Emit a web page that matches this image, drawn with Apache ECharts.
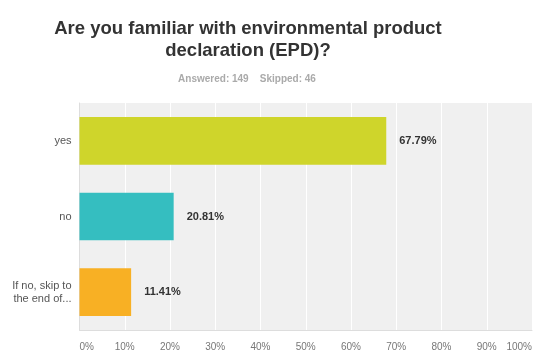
<!DOCTYPE html>
<html>
<head>
<meta charset="utf-8">
<script src="https://cdn.jsdelivr.net/npm/echarts@6/dist/echarts.min.js"></script>
<style>
  html, body { margin: 0; padding: 0; background: #fff; }
  #chart { width: 535px; height: 352px; }
</style>
</head>
<body>
<div id="chart"></div>
<script>
// Survey answers, top to bottom
var categories = ['yes', 'no', 'If no, skip to\nthe end of...'];
var percentages = [67.79, 20.81, 11.41];
var barColors = ['#cfd52b', '#35bec0', '#f8b024'];
var tickValues = [0, 10, 20, 30, 40, 50, 60, 70, 80, 90, 100];

var chart = echarts.init(document.getElementById('chart'), null, { renderer: 'canvas' });

var option = {
  animation: false,
  backgroundColor: '#ffffff',
  title: [
    {
      text: 'Are you familiar with environmental product\ndeclaration (EPD)?',
      left: 243,
      textAlign: 'center',
      top: 13,
      textStyle: {
        fontFamily: 'Liberation Sans, Arial, sans-serif',
        fontSize: 18.5,
        fontWeight: 'bold',
        color: '#333333',
        lineHeight: 22
      }
    },
    {
      text: 'Answered: 149    Skipped: 46',
      left: 242,
      textAlign: 'center',
      top: 69,
      textStyle: {
        fontFamily: 'Liberation Sans, Arial, sans-serif',
        fontSize: 10,
        fontWeight: 'bold',
        color: '#aaaaaa'
      }
    }
  ],
  grid: {
    left: 79.5,
    right: 2,
    top: 103,
    bottom: 22,
    show: true,
    backgroundColor: '#f0f0f0',
    borderWidth: 0
  },
  xAxis: {
    type: 'value',
    min: 0,
    max: 100,
    interval: 10,
    axisLine: { show: true, lineStyle: { color: '#dddddd', width: 1 } },
    axisTick: { show: false },
    splitLine: { show: true, lineStyle: { color: '#ffffff', width: 1 } },
    axisLabel: {
      formatter: function (v) { return v + '%'; },
      color: '#777777',
      fontFamily: 'Liberation Sans, Arial, sans-serif',
      fontSize: 10,
      margin: 12,
      alignMinLabel: 'left',
      alignMaxLabel: 'right'
    }
  },
  yAxis: {
    type: 'category',
    data: categories,
    inverse: true,
    axisLine: { show: true, lineStyle: { color: '#dddddd', width: 1 } },
    axisTick: { show: false },
    axisLabel: {
      color: '#555555',
      fontFamily: 'Liberation Sans, Arial, sans-serif',
      fontSize: 11,
      margin: 8,
      lineHeight: 13,
      align: 'right'
    }
  },
  series: [
    {
      type: 'bar',
      barWidth: '63%',
      data: percentages.map(function (v, i) {
        return { value: v, itemStyle: { color: barColors[i] } };
      }),
      label: {
        show: true,
        position: 'right',
        distance: 13,
        formatter: function (p) { return p.value.toFixed(2) + '%'; },
        color: '#333333',
        fontFamily: 'Liberation Sans, Arial, sans-serif',
        fontSize: 11,
        fontWeight: 'bold'
      }
    }
  ]
};

chart.setOption(option);
</script>
</body>
</html>
